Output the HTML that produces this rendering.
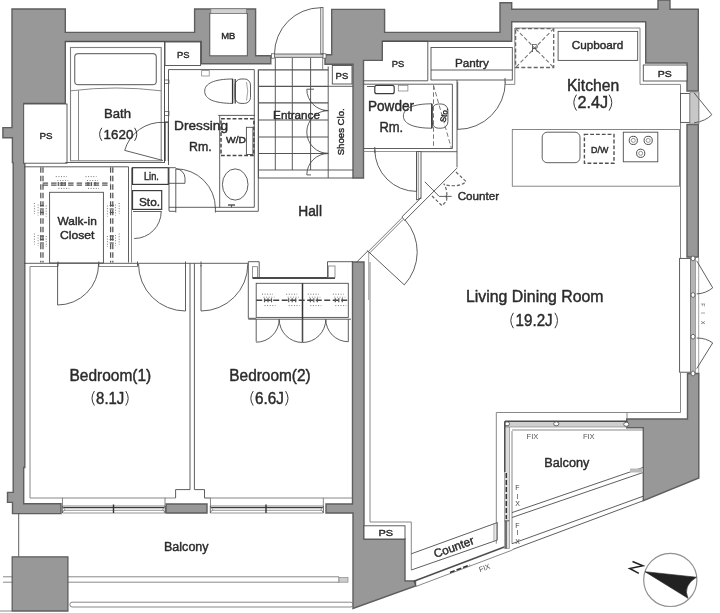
<!DOCTYPE html>
<html><head><meta charset="utf-8"><title>Floor plan</title>
<style>
html,body{margin:0;padding:0;background:#fff;}
body{width:720px;height:613px;overflow:hidden;}
svg{display:block;filter:blur(0.6px);}
svg text{font-family:"Liberation Sans",sans-serif;stroke-width:0.42px;stroke-linejoin:round;}
</style></head><body>
<svg width="720" height="613" viewBox="0 0 720 613">
<rect x="0" y="0" width="720" height="613" fill="#ffffff"/>
<polygon points="12.0,9.0 65.3,9.0 65.3,32.4 194.6,32.4 194.6,9.0 255.6,9.0 255.6,55.8 270.8,55.8 270.8,63.8 201.3,63.8 201.3,41.5 65.3,41.5 65.3,103.5 24.0,103.5 24.0,163.0 24.8,163.0 24.8,467.5 23.7,467.5 23.7,503.7 61.0,503.7 61.0,513.6 12.5,513.6 12.5,502.4 7.5,502.4 7.5,492.4 13.2,492.4 13.2,162.6 12.4,162.6 12.4,137.8 2.9,137.8 2.9,127.6 12.0,127.6" fill="#989898" stroke="#5e5e5e" stroke-width="1.4"/>
<rect x="209.8" y="13.5" width="37.5" height="42.3" rx="0" fill="#fff" stroke="#4d4d4d" stroke-width="0.9"/>
<rect x="210.8" y="8.8" width="35.5" height="4.7" rx="0" fill="#d0d0d0" stroke="#7a7a7a" stroke-width="0.7"/>
<polygon points="331.7,9.4 384.6,9.4 384.6,32.4 500.0,32.4 500.0,2.7 511.7,2.7 511.7,9.3 658.0,9.3 658.0,0.0 670.0,0.0 670.0,9.3 698.3,9.3 698.3,91.0 687.0,91.0 687.0,63.0 645.7,63.0 645.7,21.7 511.7,21.7 511.7,41.2 382.3,41.2 382.3,60.4 363.5,60.4 363.5,178.0 353.0,178.0 353.0,64.2 325.0,64.2 325.0,54.8 331.7,54.8" fill="#989898" stroke="#5e5e5e" stroke-width="1.4"/>
<polygon points="687.0,124.5 698.3,124.5 698.3,257.0 687.0,257.0" fill="#989898" stroke="#5e5e5e" stroke-width="1.4"/>
<polygon points="687.5,373.5 698.8,373.5 698.8,478.0 643.3,500.7 643.3,427.8 626.7,427.8 626.7,419.0 687.5,419.0" fill="#989898" stroke="#5e5e5e" stroke-width="1.4"/>
<polygon points="352.5,262.0 364.0,262.0 364.0,539.0 405.0,539.0 405.0,580.7 415.5,581.0 415.5,586.0 353.0,608.5 353.0,513.0 326.0,513.0 326.0,504.0 352.5,504.0" fill="#989898" stroke="#5e5e5e" stroke-width="1.4"/>
<polygon points="166.0,504.0 207.0,504.0 207.0,513.0 166.0,513.0" fill="#989898" stroke="#5e5e5e" stroke-width="1.4"/>
<rect x="23.7" y="104.0" width="43.3" height="59.2" rx="0" fill="#fff" stroke="#4d4d4d" stroke-width="0.9"/>
<rect x="165.0" y="42.0" width="35.6" height="23.5" rx="0" fill="#fff" stroke="#4d4d4d" stroke-width="0.9"/>
<rect x="332.3" y="65.5" width="19.7" height="18.5" rx="0" fill="#fff" stroke="#4d4d4d" stroke-width="0.9"/>
<polyline points="382.3,41.2 427.8,41.2 427.8,80.8 363.5,80.8" fill="none" stroke="#4d4d4d" stroke-width="0.9"/>
<rect x="643.3" y="65.0" width="43.7" height="16.0" rx="0" fill="#fff" stroke="#4d4d4d" stroke-width="0.9"/>
<rect x="364.0" y="525.8" width="41.0" height="13.2" rx="0" fill="#fff" stroke="#4d4d4d" stroke-width="0.9"/>
<polyline points="65.3,41.5 164.5,41.5 164.5,162.5 65.3,162.5" fill="none" stroke="#4d4d4d" stroke-width="0.9"/>
<rect x="70.5" y="47.5" width="90.7" height="113.3" rx="0" fill="none" stroke="#808080" stroke-width="1.1"/>
<rect x="74.7" y="53.7" width="81.6" height="31.0" rx="3.5" fill="none" stroke="#747474" stroke-width="1.2"/>
<path d="M70.8,90.8 Q116,85.2 161,90.8" fill="none" stroke="#7a7a7a" stroke-width="0.9"/>
<line x1="78.5" y1="90.3" x2="78.5" y2="160.8" stroke="#7a7a7a" stroke-width="0.9"/>
<line x1="164.5" y1="65.5" x2="164.5" y2="162.5" stroke="#4d4d4d" stroke-width="0.9"/>
<rect x="164.5" y="80.0" width="4.5" height="3.5" rx="0" fill="none" stroke="#4d4d4d" stroke-width="0.7"/>
<rect x="164.5" y="111.5" width="4.5" height="4.0" rx="0" fill="none" stroke="#4d4d4d" stroke-width="0.7"/>
<line x1="164.0" y1="122.2" x2="169.0" y2="122.2" stroke="#3c3c3c" stroke-width="1.3"/>
<line x1="165.0" y1="122.2" x2="165.0" y2="161.0" stroke="#3c3c3c" stroke-width="1.3"/>
<line x1="168.4" y1="122.2" x2="168.4" y2="161.0" stroke="#3c3c3c" stroke-width="1.2"/>
<line x1="163.0" y1="160.5" x2="124.7" y2="150.4" stroke="#4d4d4d" stroke-width="0.9"/>
<path d="M124.7,150.4 A38.5,38.5 0 0 1 164,122.4" fill="none" stroke="#4d4d4d" stroke-width="0.9"/>
<polyline points="168.5,165.0 168.5,69.6 254.3,69.6 254.3,207.3 169.0,207.3" fill="none" stroke="#4d4d4d" stroke-width="0.9"/>
<polyline points="258.3,69.6 258.3,211.3 215.4,211.3" fill="none" stroke="#4d4d4d" stroke-width="0.9"/>
<line x1="175.8" y1="211.3" x2="169.0" y2="211.3" stroke="#4d4d4d" stroke-width="0.9"/>
<path d="M233,79 C214,79 204.7,83.5 204.7,91.2 C204.7,99 214,103.4 233,103.4" fill="none" stroke="#4d4d4d" stroke-width="0.9"/>
<rect x="235.0" y="79.0" width="15.5" height="24.4" rx="6" fill="none" stroke="#4d4d4d" stroke-width="0.9"/>
<path d="M246.5,82 Q249,91 246.5,100.5" fill="none" stroke="#7a7a7a" stroke-width="0.7"/>
<line x1="232.6" y1="79.0" x2="232.6" y2="103.4" stroke="#333" stroke-width="1.4"/>
<line x1="235.2" y1="79.0" x2="235.2" y2="103.4" stroke="#333" stroke-width="1.2"/>
<rect x="201.7" y="70.4" width="7.5" height="5.6" rx="0" fill="none" stroke="#7a7a7a" stroke-width="0.7"/>
<line x1="219.7" y1="115.4" x2="219.7" y2="207.5" stroke="#4d4d4d" stroke-width="0.9"/>
<line x1="218.2" y1="115.4" x2="255.0" y2="115.4" stroke="#4d4d4d" stroke-width="0.9"/>
<ellipse cx="235.2" cy="184.5" rx="12.8" ry="15.6" fill="none" stroke="#4d4d4d" stroke-width="0.9"/>
<line x1="228.0" y1="205.0" x2="235.0" y2="205.0" stroke="#4d4d4d" stroke-width="1.4"/>
<line x1="231.5" y1="205.0" x2="231.5" y2="207.5" stroke="#4d4d4d" stroke-width="0.9"/>
<rect x="221.0" y="118.8" width="32.9" height="36.6" rx="0" fill="none" stroke="#484848" stroke-width="1.5" stroke-dasharray="3.8,2"/>
<rect x="246.4" y="127.3" width="6.5" height="27.2" rx="0" fill="none" stroke="#4d4d4d" stroke-width="0.9"/>
<line x1="175.8" y1="168.8" x2="175.8" y2="208.3" stroke="#4d4d4d" stroke-width="0.9"/>
<path d="M175.8,168.8 A39.6,39.6 0 0 1 215.4,208.3" fill="none" stroke="#4d4d4d" stroke-width="0.9"/>
<path d="M175.8,168.8 A9.4,9.4 0 0 1 185,178.1 L185,183.3 L169,183.3" fill="none" stroke="#4d4d4d" stroke-width="0.9"/>
<line x1="175.8" y1="207.3" x2="175.8" y2="212.5" stroke="#4d4d4d" stroke-width="0.9"/>
<line x1="215.4" y1="207.3" x2="215.4" y2="212.5" stroke="#4d4d4d" stroke-width="0.9"/>
<line x1="169.0" y1="167.7" x2="169.0" y2="211.0" stroke="#4d4d4d" stroke-width="0.9"/>
<rect x="132.5" y="167.7" width="35.8" height="16.7" rx="0" fill="none" stroke="#3c3c3c" stroke-width="1.2"/>
<rect x="132.5" y="190.6" width="29.2" height="18.8" rx="0" fill="none" stroke="#3c3c3c" stroke-width="1.2"/>
<line x1="133.0" y1="211.5" x2="161.7" y2="211.5" stroke="#4d4d4d" stroke-width="0.9"/>
<path d="M161.2,211.5 A27,27 0 0 1 134.2,238.5" fill="none" stroke="#4d4d4d" stroke-width="0.9"/>
<line x1="131.5" y1="167.7" x2="131.5" y2="262.5" stroke="#7a7a7a" stroke-width="0.9"/>
<line x1="169.0" y1="167.7" x2="175.8" y2="167.7" stroke="#4d4d4d" stroke-width="0.9"/>
<rect x="274.4" y="54.0" width="48.9" height="3.3" rx="0" fill="#d6d6d6" stroke="#4d4d4d" stroke-width="0.8"/>
<rect x="271.5" y="53.8" width="3.1" height="4.4" rx="0" fill="#fff" stroke="#4d4d4d" stroke-width="0.7"/>
<rect x="323.0" y="53.8" width="3.0" height="4.4" rx="0" fill="#fff" stroke="#4d4d4d" stroke-width="0.7"/>
<rect x="320.8" y="7.5" width="2.2" height="46.5" rx="0" fill="none" stroke="#4d4d4d" stroke-width="0.8"/>
<path d="M320.8,7.7 A46.3,46.3 0 0 0 274.5,54" fill="none" stroke="#4d4d4d" stroke-width="0.9"/>
<line x1="275.3" y1="58.0" x2="275.3" y2="170.0" stroke="#5a5a5a" stroke-width="1.0"/>
<line x1="292.3" y1="58.0" x2="292.3" y2="170.0" stroke="#5a5a5a" stroke-width="1.0"/>
<line x1="310.6" y1="58.0" x2="310.6" y2="170.0" stroke="#5a5a5a" stroke-width="1.0"/>
<line x1="258.4" y1="69.8" x2="258.4" y2="178.0" stroke="#4d4d4d" stroke-width="0.9"/>
<line x1="328.2" y1="66.5" x2="328.2" y2="178.0" stroke="#4d4d4d" stroke-width="0.9"/>
<line x1="322.7" y1="58.0" x2="322.7" y2="69.8" stroke="#7a7a7a" stroke-width="0.9"/>
<line x1="258.4" y1="69.8" x2="328.2" y2="69.8" stroke="#555" stroke-width="1.15"/>
<line x1="258.4" y1="86.3" x2="328.2" y2="86.3" stroke="#555" stroke-width="1.15"/>
<line x1="258.4" y1="102.9" x2="328.2" y2="102.9" stroke="#555" stroke-width="1.15"/>
<line x1="258.4" y1="120.0" x2="328.2" y2="120.0" stroke="#555" stroke-width="1.15"/>
<line x1="258.4" y1="137.0" x2="328.2" y2="137.0" stroke="#555" stroke-width="1.15"/>
<line x1="258.4" y1="153.5" x2="328.2" y2="153.5" stroke="#555" stroke-width="1.15"/>
<line x1="258.4" y1="170.0" x2="353.0" y2="170.0" stroke="#4d4d4d" stroke-width="0.9"/>
<line x1="258.3" y1="178.0" x2="353.0" y2="178.0" stroke="#4d4d4d" stroke-width="0.9"/>
<line x1="328.2" y1="86.3" x2="353.0" y2="86.3" stroke="#4d4d4d" stroke-width="0.9"/>
<path d="M306.8,89.2 A21.4,21.4 0 0 0 328.2,110.6" fill="none" stroke="#4d4d4d" stroke-width="0.9"/>
<path d="M306.8,132.0 A21.4,21.4 0 0 1 328.2,110.6" fill="none" stroke="#4d4d4d" stroke-width="0.9"/>
<path d="M306.8,132.0 A21.4,21.4 0 0 0 328.2,153.4" fill="none" stroke="#4d4d4d" stroke-width="0.9"/>
<path d="M306.8,174.9 A21.4,21.4 0 0 1 328.2,153.5" fill="none" stroke="#4d4d4d" stroke-width="0.9"/>
<line x1="306.8" y1="89.2" x2="314.0" y2="89.2" stroke="#4d4d4d" stroke-width="0.9"/>
<line x1="306.8" y1="174.9" x2="311.0" y2="174.9" stroke="#4d4d4d" stroke-width="0.9"/>
<line x1="323.0" y1="110.6" x2="328.2" y2="110.6" stroke="#4d4d4d" stroke-width="0.9"/>
<line x1="323.0" y1="153.4" x2="328.2" y2="153.4" stroke="#4d4d4d" stroke-width="0.9"/>
<polyline points="363.5,84.2 452.4,84.2 452.4,148.5" fill="none" stroke="#4d4d4d" stroke-width="0.9"/>
<line x1="363.5" y1="148.5" x2="452.4" y2="148.5" stroke="#4d4d4d" stroke-width="0.9"/>
<line x1="363.5" y1="151.5" x2="416.6" y2="151.5" stroke="#7a7a7a" stroke-width="0.8"/>
<line x1="374.8" y1="147.0" x2="374.8" y2="153.0" stroke="#4d4d4d" stroke-width="0.9"/>
<rect x="374.8" y="85.3" width="19.4" height="8.4" rx="2" fill="none" stroke="#3c3c3c" stroke-width="1.2"/>
<line x1="367.0" y1="86.5" x2="374.8" y2="86.5" stroke="#4d4d4d" stroke-width="0.9"/>
<rect x="398.3" y="85.3" width="9.6" height="5.7" rx="0" fill="none" stroke="#7a7a7a" stroke-width="0.7"/>
<path d="M431.9,103.8 C414,103.8 403.4,108 403.4,116 C403.4,124 414,128.2 431.9,128.2" fill="none" stroke="#4d4d4d" stroke-width="0.9"/>
<rect x="431.9" y="104.0" width="16.0" height="24.2" rx="6.5" fill="none" stroke="#4d4d4d" stroke-width="0.9"/>
<line x1="431.9" y1="103.8" x2="431.9" y2="128.2" stroke="#333" stroke-width="1.6"/>
<line x1="433.5" y1="85.3" x2="433.5" y2="148.0" stroke="#7a7a7a" stroke-width="1.0" stroke-dasharray="4.5,2.5"/>
<line x1="433.5" y1="85.3" x2="451.3" y2="148.0" stroke="#7a7a7a" stroke-width="1.0" stroke-dasharray="4.5,2.5"/>
<line x1="416.6" y1="151.5" x2="416.6" y2="191.4" stroke="#4d4d4d" stroke-width="0.9"/>
<path d="M416.6,191.4 A41.8,41.8 0 0 1 374.8,149.6" fill="none" stroke="#4d4d4d" stroke-width="0.9"/>
<line x1="416.6" y1="151.5" x2="416.6" y2="200.0" stroke="#4d4d4d" stroke-width="0.9"/>
<polyline points="421.0,198.7 421.0,151.7 457.0,151.7" fill="none" stroke="#4d4d4d" stroke-width="0.9"/>
<line x1="418.6" y1="151.7" x2="418.6" y2="200.0" stroke="#7a7a7a" stroke-width="0.7"/>
<line x1="416.6" y1="151.5" x2="421.0" y2="151.5" stroke="#4d4d4d" stroke-width="0.9"/>
<rect x="431.0" y="47.5" width="81.3" height="32.5" rx="0" fill="none" stroke="#4d4d4d" stroke-width="0.9"/>
<line x1="431.0" y1="70.0" x2="512.3" y2="70.0" stroke="#4d4d4d" stroke-width="0.9"/>
<line x1="505.0" y1="78.0" x2="505.0" y2="82.5" stroke="#4d4d4d" stroke-width="0.9"/>
<line x1="457.7" y1="81.8" x2="457.7" y2="129.8" stroke="#4d4d4d" stroke-width="0.9"/>
<path d="M457.7,129.4 A47.6,47.6 0 0 0 505.3,81.8" fill="none" stroke="#4d4d4d" stroke-width="0.9"/>
<line x1="457.0" y1="80.0" x2="457.0" y2="167.4" stroke="#4d4d4d" stroke-width="0.9"/>
<line x1="457.0" y1="168.1" x2="404.6" y2="220.5" stroke="#4d4d4d" stroke-width="0.9"/>
<line x1="421.0" y1="197.8" x2="401.9" y2="216.9" stroke="#4d4d4d" stroke-width="0.9"/>
<line x1="416.6" y1="200.0" x2="421.0" y2="197.8" stroke="#4d4d4d" stroke-width="0.9"/>
<line x1="401.9" y1="216.9" x2="404.6" y2="220.5" stroke="#4d4d4d" stroke-width="0.9"/>
<line x1="403.0" y1="219.6" x2="369.8" y2="252.8" stroke="#7a7a7a" stroke-width="1.0"/>
<line x1="401.6" y1="218.2" x2="368.4" y2="251.4" stroke="#7a7a7a" stroke-width="1.0"/>
<line x1="367.2" y1="250.4" x2="370.6" y2="253.8" stroke="#4d4d4d" stroke-width="0.9"/>
<line x1="368.7" y1="251.9" x2="404.3" y2="284.9" stroke="#4d4d4d" stroke-width="0.9"/>
<path d="M404.3,284.9 A48.5,48.5 0 0 0 405.2,220" fill="none" stroke="#4d4d4d" stroke-width="0.9"/>
<line x1="367.8" y1="251.0" x2="357.0" y2="261.8" stroke="#4d4d4d" stroke-width="0.9"/>
<line x1="368.7" y1="252.0" x2="368.7" y2="300.0" stroke="#7a7a7a" stroke-width="0.7"/>
<polyline points="424.8,181.8 439.2,196.4 451.6,196.4" fill="none" stroke="#4d4d4d" stroke-width="0.9"/>
<line x1="446.3" y1="194.8" x2="446.3" y2="198.0" stroke="#4d4d4d" stroke-width="0.9"/>
<path d="M456,172 L466,181.5 Q460,187.5 446,185" fill="none" stroke="#666" stroke-width="1.2" stroke-dasharray="3.2,2"/>
<path d="M432,196 L442,205.7 L446.5,201 Q448,190 443.7,183.7" fill="none" stroke="#666" stroke-width="1.2" stroke-dasharray="3.2,2"/>
<polyline points="504.5,84.4 514.8,84.4 514.8,28.0 640.0,28.0 640.0,84.4 680.5,84.4 680.5,93.5" fill="none" stroke="#7a7a7a" stroke-width="0.9"/>
<rect x="515.6" y="28.6" width="38.1" height="38.9" rx="0" fill="none" stroke="#666" stroke-width="1.3" stroke-dasharray="4,2.2"/>
<line x1="515.6" y1="28.6" x2="553.7" y2="67.5" stroke="#777" stroke-width="1.1" stroke-dasharray="4,2.2"/>
<line x1="553.7" y1="28.6" x2="515.6" y2="67.5" stroke="#777" stroke-width="1.1" stroke-dasharray="4,2.2"/>
<rect x="558.1" y="31.4" width="79.6" height="29.0" rx="0" fill="none" stroke="#4d4d4d" stroke-width="0.9"/>
<rect x="512.3" y="129.5" width="167.2" height="56.7" rx="0" fill="none" stroke="#7a7a7a" stroke-width="0.9"/>
<rect x="542.2" y="132.2" width="37.8" height="30.5" rx="5" fill="none" stroke="#4d4d4d" stroke-width="0.9"/>
<rect x="584.4" y="134.4" width="29.6" height="28.9" rx="0" fill="none" stroke="#505050" stroke-width="1.4" stroke-dasharray="3.8,2"/>
<rect x="623.3" y="132.2" width="34.5" height="29.6" rx="0" fill="none" stroke="#4d4d4d" stroke-width="0.9"/>
<circle cx="633.3" cy="140.4" r="4.1" fill="none" stroke="#4d4d4d" stroke-width="1"/>
<circle cx="633.3" cy="140.4" r="2" fill="none" stroke="#7a7a7a" stroke-width="0.8"/>
<circle cx="648.2" cy="140.4" r="4.1" fill="none" stroke="#4d4d4d" stroke-width="1"/>
<circle cx="648.2" cy="140.4" r="2" fill="none" stroke="#7a7a7a" stroke-width="0.8"/>
<circle cx="640.7" cy="153.3" r="4.1" fill="none" stroke="#4d4d4d" stroke-width="1"/>
<circle cx="640.7" cy="153.3" r="2" fill="none" stroke="#7a7a7a" stroke-width="0.8"/>
<line x1="680.5" y1="122.4" x2="680.5" y2="258.4" stroke="#7a7a7a" stroke-width="0.9"/>
<rect x="680.5" y="93.5" width="9.5" height="28.9" rx="0" fill="#fff" stroke="#4d4d4d" stroke-width="0.9"/>
<rect x="690.0" y="92.0" width="8.3" height="32.0" rx="0" fill="#c8c8c8" stroke="#7a7a7a" stroke-width="0.6"/>
<path d="M694,92.7 L711.8,114.7 Q706,121 694,122.9" fill="none" stroke="#4d4d4d" stroke-width="0.9"/>
<line x1="699.0" y1="92.0" x2="699.0" y2="124.0" stroke="#7a7a7a" stroke-width="0.7"/>
<rect x="679.6" y="258.4" width="11.0" height="113.8" rx="0" fill="#fff" stroke="#4d4d4d" stroke-width="0.9"/>
<rect x="690.6" y="258.0" width="4.9" height="115.0" rx="0" fill="#b4b4b4" stroke="#7a7a7a" stroke-width="0.6"/>
<line x1="698.7" y1="258.0" x2="698.7" y2="373.0" stroke="#7a7a7a" stroke-width="0.7"/>
<ellipse cx="693" cy="258.4" rx="2" ry="2.4" fill="#fff" stroke="#4d4d4d" stroke-width="0.8"/>
<ellipse cx="693" cy="295.0" rx="2" ry="2.4" fill="#fff" stroke="#4d4d4d" stroke-width="0.8"/>
<ellipse cx="693" cy="336.7" rx="2" ry="2.4" fill="#fff" stroke="#4d4d4d" stroke-width="0.8"/>
<ellipse cx="693" cy="373.5" rx="2" ry="2.4" fill="#fff" stroke="#4d4d4d" stroke-width="0.8"/>
<path d="M696.7,260.8 L712.7,287.8 Q706,293.5 696.7,293.9" fill="none" stroke="#4d4d4d" stroke-width="0.9"/>
<path d="M696.7,368.6 L712.7,342.9 Q706,338 696.7,338" fill="none" stroke="#4d4d4d" stroke-width="0.9"/>
<polyline points="370.0,262.0 370.0,522.0 411.3,522.0 411.3,570.0" fill="none" stroke="#7a7a7a" stroke-width="0.9"/>
<polyline points="680.5,372.2 680.5,412.5 496.3,412.5 496.3,543.7" fill="none" stroke="#7a7a7a" stroke-width="0.9"/>
<line x1="627.0" y1="412.5" x2="627.0" y2="419.0" stroke="#7a7a7a" stroke-width="0.9"/>
<line x1="411.3" y1="553.8" x2="497.5" y2="522.5" stroke="#4d4d4d" stroke-width="0.9"/>
<line x1="411.3" y1="570.0" x2="497.5" y2="540.0" stroke="#4d4d4d" stroke-width="0.9"/>
<line x1="497.5" y1="522.5" x2="497.5" y2="540.0" stroke="#7a7a7a" stroke-width="0.9"/>
<line x1="494.0" y1="523.5" x2="494.0" y2="541.0" stroke="#7a7a7a" stroke-width="0.7"/>
<line x1="413.8" y1="581.3" x2="506.3" y2="546.3" stroke="#4d4d4d" stroke-width="1.5"/>
<line x1="416.3" y1="586.3" x2="512.5" y2="550.0" stroke="#7a7a7a" stroke-width="0.9"/>
<line x1="413.8" y1="581.3" x2="416.3" y2="586.3" stroke="#4d4d4d" stroke-width="0.9"/>
<line x1="450.0" y1="572.5" x2="470.0" y2="565.0" stroke="#333" stroke-width="1.6" stroke-dasharray="5,2"/>
<rect x="505.0" y="421.3" width="122.5" height="5.7" rx="0" fill="#cfcfcf" stroke="#7a7a7a" stroke-width="0.6"/>
<line x1="505.0" y1="421.3" x2="627.5" y2="421.3" stroke="#4d4d4d" stroke-width="1.5"/>
<ellipse cx="507.0" cy="423.8" rx="2.6" ry="2" fill="#fff" stroke="#4d4d4d" stroke-width="0.8"/>
<ellipse cx="556.3" cy="423.8" rx="2.6" ry="2" fill="#fff" stroke="#4d4d4d" stroke-width="0.8"/>
<ellipse cx="626.3" cy="424.3" rx="2.6" ry="2" fill="#fff" stroke="#4d4d4d" stroke-width="0.8"/>
<rect x="504.5" y="427.0" width="4.9" height="121.6" rx="0" fill="#dcdcdc" stroke="#7a7a7a" stroke-width="0.6"/>
<line x1="504.8" y1="421.3" x2="504.8" y2="472.0" stroke="#4d4d4d" stroke-width="1.5"/>
<line x1="506.3" y1="473.0" x2="506.3" y2="519.0" stroke="#333" stroke-width="1.5" stroke-dasharray="5,2"/>
<line x1="506.0" y1="521.0" x2="506.0" y2="548.6" stroke="#4d4d4d" stroke-width="1.5"/>
<line x1="504.5" y1="520.8" x2="509.4" y2="520.8" stroke="#4d4d4d" stroke-width="0.9"/>
<line x1="512.0" y1="431.0" x2="512.0" y2="543.7" stroke="#7a7a7a" stroke-width="0.9"/>
<polyline points="512.0,430.0 643.0,430.0" fill="none" stroke="#7a7a7a" stroke-width="0.9"/>
<line x1="512.0" y1="512.6" x2="643.0" y2="467.5" stroke="#4d4d4d" stroke-width="0.9"/>
<line x1="512.0" y1="517.5" x2="643.0" y2="472.5" stroke="#4d4d4d" stroke-width="0.9"/>
<line x1="512.0" y1="543.7" x2="643.0" y2="496.3" stroke="#4d4d4d" stroke-width="0.9"/>
<line x1="512.5" y1="549.5" x2="643.3" y2="500.7" stroke="#4d4d4d" stroke-width="0.9"/>
<rect x="630.0" y="468.5" width="13.0" height="4.0" rx="0" fill="#bbb" stroke="none" stroke-width="0.9"/>
<polyline points="24.0,166.8 128.5,166.8 128.5,262.5" fill="none" stroke="#4d4d4d" stroke-width="0.9"/>
<line x1="40.8" y1="167.2" x2="40.8" y2="262.5" stroke="#555" stroke-width="1.25" stroke-dasharray="5.5,3"/>
<line x1="43.0" y1="167.2" x2="43.0" y2="262.5" stroke="#555" stroke-width="1.25" stroke-dasharray="5.5,3"/>
<line x1="110.6" y1="167.2" x2="110.6" y2="262.5" stroke="#555" stroke-width="1.25" stroke-dasharray="5.5,3"/>
<line x1="112.8" y1="167.2" x2="112.8" y2="262.5" stroke="#555" stroke-width="1.25" stroke-dasharray="5.5,3"/>
<line x1="42.6" y1="183.0" x2="111.0" y2="183.0" stroke="#555" stroke-width="1.25" stroke-dasharray="5.5,3"/>
<line x1="42.6" y1="185.2" x2="111.0" y2="185.2" stroke="#555" stroke-width="1.25" stroke-dasharray="5.5,3"/>
<rect x="49.6" y="192.3" width="53.8" height="70.7" rx="0" fill="none" stroke="#4d4d4d" stroke-width="0.9"/>
<line x1="55.8" y1="176.6" x2="66.8" y2="176.6" stroke="#666" stroke-width="0.9" stroke-dasharray="1,1.6"/>
<line x1="57.3" y1="180.5" x2="68.3" y2="180.5" stroke="#777" stroke-width="0.9" stroke-dasharray="1,1.6"/>
<line x1="58.3" y1="188.4" x2="69.3" y2="188.4" stroke="#666" stroke-width="0.9" stroke-dasharray="1,1.6"/>
<line x1="58.3" y1="182.1" x2="58.3" y2="186.1" stroke="#555" stroke-width="1.2"/>
<line x1="61.8" y1="182.1" x2="61.8" y2="186.1" stroke="#555" stroke-width="1.2"/>
<line x1="65.3" y1="182.1" x2="65.3" y2="186.1" stroke="#555" stroke-width="1.2"/>
<line x1="85.5" y1="176.6" x2="96.5" y2="176.6" stroke="#666" stroke-width="0.9" stroke-dasharray="1,1.6"/>
<line x1="87.0" y1="180.5" x2="98.0" y2="180.5" stroke="#777" stroke-width="0.9" stroke-dasharray="1,1.6"/>
<line x1="88.0" y1="188.4" x2="99.0" y2="188.4" stroke="#666" stroke-width="0.9" stroke-dasharray="1,1.6"/>
<line x1="88.0" y1="182.1" x2="88.0" y2="186.1" stroke="#555" stroke-width="1.2"/>
<line x1="91.5" y1="182.1" x2="91.5" y2="186.1" stroke="#555" stroke-width="1.2"/>
<line x1="95.0" y1="182.1" x2="95.0" y2="186.1" stroke="#555" stroke-width="1.2"/>
<line x1="34.4" y1="203.0" x2="34.4" y2="214.0" stroke="#666" stroke-width="0.9" stroke-dasharray="1,1.6"/>
<line x1="38.1" y1="204.5" x2="38.1" y2="215.5" stroke="#777" stroke-width="0.9" stroke-dasharray="1,1.6"/>
<line x1="46.2" y1="205.5" x2="46.2" y2="216.5" stroke="#666" stroke-width="0.9" stroke-dasharray="1,1.6"/>
<line x1="39.9" y1="205.5" x2="43.9" y2="205.5" stroke="#555" stroke-width="1.2"/>
<line x1="39.9" y1="209.0" x2="43.9" y2="209.0" stroke="#555" stroke-width="1.2"/>
<line x1="39.9" y1="212.5" x2="43.9" y2="212.5" stroke="#555" stroke-width="1.2"/>
<line x1="34.4" y1="233.5" x2="34.4" y2="244.5" stroke="#666" stroke-width="0.9" stroke-dasharray="1,1.6"/>
<line x1="38.1" y1="235.0" x2="38.1" y2="246.0" stroke="#777" stroke-width="0.9" stroke-dasharray="1,1.6"/>
<line x1="46.2" y1="236.0" x2="46.2" y2="247.0" stroke="#666" stroke-width="0.9" stroke-dasharray="1,1.6"/>
<line x1="39.9" y1="236.0" x2="43.9" y2="236.0" stroke="#555" stroke-width="1.2"/>
<line x1="39.9" y1="239.5" x2="43.9" y2="239.5" stroke="#555" stroke-width="1.2"/>
<line x1="39.9" y1="243.0" x2="43.9" y2="243.0" stroke="#555" stroke-width="1.2"/>
<line x1="119.2" y1="203.0" x2="119.2" y2="214.0" stroke="#666" stroke-width="0.9" stroke-dasharray="1,1.6"/>
<line x1="115.5" y1="204.5" x2="115.5" y2="215.5" stroke="#777" stroke-width="0.9" stroke-dasharray="1,1.6"/>
<line x1="107.4" y1="205.5" x2="107.4" y2="216.5" stroke="#666" stroke-width="0.9" stroke-dasharray="1,1.6"/>
<line x1="109.7" y1="205.5" x2="113.7" y2="205.5" stroke="#555" stroke-width="1.2"/>
<line x1="109.7" y1="209.0" x2="113.7" y2="209.0" stroke="#555" stroke-width="1.2"/>
<line x1="109.7" y1="212.5" x2="113.7" y2="212.5" stroke="#555" stroke-width="1.2"/>
<line x1="119.2" y1="233.5" x2="119.2" y2="244.5" stroke="#666" stroke-width="0.9" stroke-dasharray="1,1.6"/>
<line x1="115.5" y1="235.0" x2="115.5" y2="246.0" stroke="#777" stroke-width="0.9" stroke-dasharray="1,1.6"/>
<line x1="107.4" y1="236.0" x2="107.4" y2="247.0" stroke="#666" stroke-width="0.9" stroke-dasharray="1,1.6"/>
<line x1="109.7" y1="236.0" x2="113.7" y2="236.0" stroke="#555" stroke-width="1.2"/>
<line x1="109.7" y1="239.5" x2="113.7" y2="239.5" stroke="#555" stroke-width="1.2"/>
<line x1="109.7" y1="243.0" x2="113.7" y2="243.0" stroke="#555" stroke-width="1.2"/>
<line x1="24.0" y1="263.3" x2="248.3" y2="263.3" stroke="#4d4d4d" stroke-width="0.9"/>
<polyline points="30.0,498.0 30.0,266.5 58.0,266.5" fill="none" stroke="#7a7a7a" stroke-width="0.9"/>
<line x1="98.8" y1="266.5" x2="137.5" y2="266.5" stroke="#7a7a7a" stroke-width="0.9"/>
<line x1="58.0" y1="261.5" x2="58.0" y2="266.5" stroke="#4d4d4d" stroke-width="0.9"/>
<line x1="98.8" y1="261.5" x2="98.8" y2="266.5" stroke="#4d4d4d" stroke-width="0.9"/>
<line x1="137.5" y1="261.5" x2="137.5" y2="266.5" stroke="#4d4d4d" stroke-width="0.9"/>
<line x1="57.6" y1="263.3" x2="57.6" y2="305.0" stroke="#4d4d4d" stroke-width="0.9"/>
<path d="M57.6,305 A41,41 0 0 0 98.6,264" fill="none" stroke="#4d4d4d" stroke-width="0.9"/>
<line x1="185.5" y1="265.0" x2="185.5" y2="311.0" stroke="#4d4d4d" stroke-width="0.9"/>
<path d="M185.5,311 A47,47 0 0 1 138.5,264" fill="none" stroke="#4d4d4d" stroke-width="0.9"/>
<line x1="190.0" y1="263.3" x2="190.0" y2="489.6" stroke="#4d4d4d" stroke-width="0.9"/>
<line x1="194.4" y1="263.3" x2="194.4" y2="489.6" stroke="#4d4d4d" stroke-width="0.9"/>
<line x1="185.5" y1="261.5" x2="185.5" y2="266.5" stroke="#4d4d4d" stroke-width="0.9"/>
<line x1="201.0" y1="261.5" x2="201.0" y2="266.5" stroke="#4d4d4d" stroke-width="0.9"/>
<line x1="201.0" y1="265.0" x2="201.0" y2="311.0" stroke="#4d4d4d" stroke-width="0.9"/>
<path d="M201,311 A46.8,46.8 0 0 0 247.8,264.2" fill="none" stroke="#4d4d4d" stroke-width="0.9"/>
<polyline points="248.3,261.7 248.3,318.3 256.2,318.3" fill="none" stroke="#4d4d4d" stroke-width="0.9"/>
<polyline points="248.3,261.7 259.2,261.7 259.2,277.5" fill="none" stroke="#4d4d4d" stroke-width="0.9"/>
<rect x="252.5" y="266.7" width="5.0" height="10.8" rx="0" fill="none" stroke="#7a7a7a" stroke-width="0.8"/>
<line x1="252.5" y1="278.0" x2="335.0" y2="278.0" stroke="#4a4a4a" stroke-width="2.2"/>
<polyline points="327.5,277.5 327.5,261.7 353.0,261.7" fill="none" stroke="#4d4d4d" stroke-width="0.9"/>
<rect x="328.3" y="266.0" width="6.7" height="11.5" rx="0" fill="none" stroke="#7a7a7a" stroke-width="0.8"/>
<rect x="256.2" y="283.3" width="92.1" height="34.1" rx="0" fill="none" stroke="#4d4d4d" stroke-width="0.9"/>
<line x1="248.3" y1="319.2" x2="351.0" y2="319.2" stroke="#4d4d4d" stroke-width="0.9"/>
<line x1="302.5" y1="283.3" x2="302.5" y2="341.7" stroke="#333" stroke-width="1.5"/>
<line x1="256.2" y1="300.3" x2="348.3" y2="300.3" stroke="#444" stroke-width="1.5" stroke-dasharray="6,2.5"/>
<line x1="262.0" y1="294.2" x2="273.0" y2="294.2" stroke="#666" stroke-width="0.9" stroke-dasharray="1,1.6"/>
<line x1="263.5" y1="297.2" x2="274.5" y2="297.2" stroke="#777" stroke-width="0.9" stroke-dasharray="1,1.6"/>
<line x1="264.5" y1="305.6" x2="275.5" y2="305.6" stroke="#666" stroke-width="0.9" stroke-dasharray="1,1.6"/>
<line x1="264.5" y1="298.3" x2="264.5" y2="302.3" stroke="#555" stroke-width="1.2"/>
<line x1="268.0" y1="298.3" x2="268.0" y2="302.3" stroke="#555" stroke-width="1.2"/>
<line x1="271.5" y1="298.3" x2="271.5" y2="302.3" stroke="#555" stroke-width="1.2"/>
<line x1="286.2" y1="294.2" x2="297.2" y2="294.2" stroke="#666" stroke-width="0.9" stroke-dasharray="1,1.6"/>
<line x1="287.7" y1="297.2" x2="298.7" y2="297.2" stroke="#777" stroke-width="0.9" stroke-dasharray="1,1.6"/>
<line x1="288.7" y1="305.6" x2="299.7" y2="305.6" stroke="#666" stroke-width="0.9" stroke-dasharray="1,1.6"/>
<line x1="288.7" y1="298.3" x2="288.7" y2="302.3" stroke="#555" stroke-width="1.2"/>
<line x1="292.2" y1="298.3" x2="292.2" y2="302.3" stroke="#555" stroke-width="1.2"/>
<line x1="295.7" y1="298.3" x2="295.7" y2="302.3" stroke="#555" stroke-width="1.2"/>
<line x1="307.8" y1="294.2" x2="318.8" y2="294.2" stroke="#666" stroke-width="0.9" stroke-dasharray="1,1.6"/>
<line x1="309.3" y1="297.2" x2="320.3" y2="297.2" stroke="#777" stroke-width="0.9" stroke-dasharray="1,1.6"/>
<line x1="310.3" y1="305.6" x2="321.3" y2="305.6" stroke="#666" stroke-width="0.9" stroke-dasharray="1,1.6"/>
<line x1="310.3" y1="298.3" x2="310.3" y2="302.3" stroke="#555" stroke-width="1.2"/>
<line x1="313.8" y1="298.3" x2="313.8" y2="302.3" stroke="#555" stroke-width="1.2"/>
<line x1="317.3" y1="298.3" x2="317.3" y2="302.3" stroke="#555" stroke-width="1.2"/>
<line x1="332.8" y1="294.2" x2="343.8" y2="294.2" stroke="#666" stroke-width="0.9" stroke-dasharray="1,1.6"/>
<line x1="334.3" y1="297.2" x2="345.3" y2="297.2" stroke="#777" stroke-width="0.9" stroke-dasharray="1,1.6"/>
<line x1="335.3" y1="305.6" x2="346.3" y2="305.6" stroke="#666" stroke-width="0.9" stroke-dasharray="1,1.6"/>
<line x1="335.3" y1="298.3" x2="335.3" y2="302.3" stroke="#555" stroke-width="1.2"/>
<line x1="338.8" y1="298.3" x2="338.8" y2="302.3" stroke="#555" stroke-width="1.2"/>
<line x1="342.3" y1="298.3" x2="342.3" y2="302.3" stroke="#555" stroke-width="1.2"/>
<line x1="256.2" y1="319.2" x2="256.2" y2="341.7" stroke="#4d4d4d" stroke-width="0.9"/>
<path d="M256.2,342.2 A23.0,23.0 0 0 0 279.2,319.2" fill="none" stroke="#4d4d4d" stroke-width="0.9"/>
<line x1="302.5" y1="319.2" x2="302.5" y2="341.7" stroke="#4d4d4d" stroke-width="0.9"/>
<path d="M302.5,342.5 A23.3,23.3 0 0 1 279.2,319.2" fill="none" stroke="#4d4d4d" stroke-width="0.9"/>
<line x1="302.5" y1="319.2" x2="302.5" y2="341.7" stroke="#4d4d4d" stroke-width="0.9"/>
<path d="M302.5,342.5 A23.3,23.3 0 0 0 325.8,319.2" fill="none" stroke="#4d4d4d" stroke-width="0.9"/>
<line x1="348.3" y1="319.2" x2="348.3" y2="341.7" stroke="#4d4d4d" stroke-width="0.9"/>
<path d="M348.3,341.7 A22.5,22.5 0 0 1 325.8,319.2" fill="none" stroke="#4d4d4d" stroke-width="0.9"/>
<polyline points="30.0,498.0 62.4,498.0" fill="none" stroke="#7a7a7a" stroke-width="0.9"/>
<line x1="165.0" y1="498.0" x2="175.6" y2="498.0" stroke="#7a7a7a" stroke-width="0.9"/>
<polyline points="175.6,498.0 175.6,489.6 190.0,489.6" fill="none" stroke="#4d4d4d" stroke-width="0.9"/>
<polyline points="194.5,489.6 204.5,489.6 204.5,498.0 210.4,498.0" fill="none" stroke="#4d4d4d" stroke-width="0.9"/>
<line x1="323.3" y1="498.0" x2="352.5" y2="498.0" stroke="#7a7a7a" stroke-width="0.9"/>
<rect x="62.4" y="498.0" width="102.6" height="8.0" rx="0" fill="#fff" stroke="#7a7a7a" stroke-width="0.9"/>
<line x1="62.4" y1="507.6" x2="165.0" y2="507.6" stroke="#3a3a3a" stroke-width="1.4"/>
<line x1="62.4" y1="510.3" x2="165.0" y2="510.3" stroke="#7a7a7a" stroke-width="0.8"/>
<line x1="62.4" y1="513.0" x2="165.0" y2="513.0" stroke="#7a7a7a" stroke-width="0.8"/>
<line x1="113.5" y1="504.5" x2="113.5" y2="513.0" stroke="#333" stroke-width="1.4"/>
<line x1="62.4" y1="506.0" x2="62.4" y2="513.0" stroke="#4d4d4d" stroke-width="0.9"/>
<line x1="165.0" y1="506.0" x2="165.0" y2="513.0" stroke="#4d4d4d" stroke-width="0.9"/>
<path d="M62.4,506.5 l2.2,3 l-2.2,3 z" fill="#fff" stroke="#4d4d4d" stroke-width="0.6"/>
<path d="M165.0,506.5 l-2.2,3 l2.2,3 z" fill="#fff" stroke="#4d4d4d" stroke-width="0.6"/>
<rect x="210.4" y="498.0" width="112.9" height="8.0" rx="0" fill="#fff" stroke="#7a7a7a" stroke-width="0.9"/>
<line x1="210.4" y1="507.6" x2="323.3" y2="507.6" stroke="#3a3a3a" stroke-width="1.4"/>
<line x1="210.4" y1="510.3" x2="323.3" y2="510.3" stroke="#7a7a7a" stroke-width="0.8"/>
<line x1="210.4" y1="513.0" x2="323.3" y2="513.0" stroke="#7a7a7a" stroke-width="0.8"/>
<line x1="266.0" y1="504.5" x2="266.0" y2="513.0" stroke="#333" stroke-width="1.4"/>
<line x1="210.4" y1="506.0" x2="210.4" y2="513.0" stroke="#4d4d4d" stroke-width="0.9"/>
<line x1="323.3" y1="506.0" x2="323.3" y2="513.0" stroke="#4d4d4d" stroke-width="0.9"/>
<path d="M210.4,506.5 l2.2,3 l-2.2,3 z" fill="#fff" stroke="#4d4d4d" stroke-width="0.6"/>
<path d="M323.3,506.5 l-2.2,3 l2.2,3 z" fill="#fff" stroke="#4d4d4d" stroke-width="0.6"/>
<line x1="18.7" y1="513.6" x2="18.7" y2="556.8" stroke="#4d4d4d" stroke-width="0.9"/>
<line x1="3.0" y1="576.8" x2="339.0" y2="576.8" stroke="#7a7a7a" stroke-width="0.9"/>
<line x1="3.0" y1="582.2" x2="339.0" y2="582.2" stroke="#7a7a7a" stroke-width="0.9"/>
<line x1="339.0" y1="577.2" x2="339.0" y2="582.4" stroke="#7a7a7a" stroke-width="0.9"/>
<rect x="339.0" y="577.5" width="9.0" height="4.7" rx="0" fill="#ccc" stroke="#7a7a7a" stroke-width="0.6"/>
<rect x="69.9" y="602.2" width="283.1" height="4.8" rx="2.2" fill="none" stroke="#7a7a7a" stroke-width="0.9"/>
<line x1="0.0" y1="611.0" x2="12.0" y2="611.0" stroke="#7a7a7a" stroke-width="0.9"/>
<polygon points="12.2,556.8 67.9,556.8 67.9,611.0 12.2,611.0" fill="#989898" stroke="#5e5e5e" stroke-width="1.3"/>
<circle cx="670.3" cy="579.9" r="26.6" fill="none" stroke="#909090" stroke-width="1.2"/>
<path d="M645,571.7 L696.4,577.2 Q682.5,586 688,598.3 Z" fill="#222" stroke="#222" stroke-width="0.6"/>
<polyline points="632.5,561.5 642.9,565.7 629.7,568.5 638.8,573.3" fill="none" stroke="#222" stroke-width="1.5"/>
<text x="221.3" y="38.5" font-size="9.3" textLength="14.1" lengthAdjust="spacingAndGlyphs" fill="#2b2b2b" stroke="#2b2b2b">MB</text>
<text x="177.0" y="58.0" font-size="9.4" textLength="12.5" lengthAdjust="spacingAndGlyphs" fill="#2b2b2b" stroke="#2b2b2b">PS</text>
<text x="39.5" y="138.8" font-size="9.4" textLength="13.0" lengthAdjust="spacingAndGlyphs" fill="#2b2b2b" stroke="#2b2b2b">PS</text>
<text x="104.0" y="117.8" font-size="13" textLength="27.0" lengthAdjust="spacingAndGlyphs" fill="#2b2b2b" stroke="#2b2b2b">Bath</text>
<text x="103.6" y="139.3" font-size="13.2" textLength="29.8" lengthAdjust="spacingAndGlyphs" fill="#2b2b2b" stroke="#2b2b2b">1620</text>
<path d="M101.8,127.8 Q97.4,134.3 101.8,140.8" fill="none" stroke="#2b2b2b" stroke-width="0.95"/>
<path d="M134.6,127.8 Q139.0,134.3 134.6,140.8" fill="none" stroke="#2b2b2b" stroke-width="0.95"/>
<text x="174.1" y="130.2" font-size="13.6" textLength="53.9" lengthAdjust="spacingAndGlyphs" fill="#2b2b2b" stroke="#2b2b2b">Dressing</text>
<text x="189.1" y="150.8" font-size="13.6" textLength="22.7" lengthAdjust="spacingAndGlyphs" fill="#2b2b2b" stroke="#2b2b2b">Rm.</text>
<text x="226.0" y="143.0" font-size="9" textLength="20.0" lengthAdjust="spacingAndGlyphs" fill="#2b2b2b" stroke="#2b2b2b">W/D</text>
<text x="273.1" y="119.0" font-size="11.7" textLength="46.9" lengthAdjust="spacingAndGlyphs" fill="#2b2b2b" stroke="#2b2b2b">Entrance</text>
<text x="335.6" y="78.6" font-size="9.4" textLength="12.6" lengthAdjust="spacingAndGlyphs" fill="#2b2b2b" stroke="#2b2b2b">PS</text>
<text x="344.5" y="155.3" font-size="9.7" textLength="47" lengthAdjust="spacingAndGlyphs" fill="#2b2b2b" stroke="#2b2b2b" transform="rotate(-90 344.5 155.3)">Shoes Clo.</text>
<text x="391.7" y="66.7" font-size="9.4" textLength="12.5" lengthAdjust="spacingAndGlyphs" fill="#2b2b2b" stroke="#2b2b2b">PS</text>
<text x="455.0" y="67.0" font-size="11.7" textLength="33.8" lengthAdjust="spacingAndGlyphs" fill="#2b2b2b" stroke="#2b2b2b">Pantry</text>
<text x="368.0" y="111.1" font-size="13.9" textLength="46.0" lengthAdjust="spacingAndGlyphs" fill="#2b2b2b" stroke="#2b2b2b">Powder</text>
<text x="379.4" y="131.6" font-size="13.9" textLength="23.8" lengthAdjust="spacingAndGlyphs" fill="#2b2b2b" stroke="#2b2b2b">Rm.</text>
<text x="445.6" y="122.5" font-size="8" fill="#2b2b2b" stroke="#2b2b2b" transform="rotate(-80 445.6 122.5)">Sto.</text>
<text x="571.7" y="49.0" font-size="11.75" textLength="51.6" lengthAdjust="spacingAndGlyphs" fill="#2b2b2b" stroke="#2b2b2b">Cupboard</text>
<text x="534.9" y="52.0" font-size="10" text-anchor="middle" fill="#555" font-weight="normal">R</text>
<text x="657.7" y="76.7" font-size="9.4" textLength="14.0" lengthAdjust="spacingAndGlyphs" fill="#2b2b2b" stroke="#2b2b2b">PS</text>
<text x="566.9" y="90.6" font-size="15.8" textLength="52.3" lengthAdjust="spacingAndGlyphs" fill="#2b2b2b" stroke="#2b2b2b">Kitchen</text>
<text x="577.4" y="108.0" font-size="16.2" textLength="30.6" lengthAdjust="spacingAndGlyphs" fill="#2b2b2b" stroke="#2b2b2b">2.4J</text>
<path d="M576.5,94.6 Q571.1,102.6 576.5,110.6" fill="none" stroke="#2b2b2b" stroke-width="0.95"/>
<path d="M609.1,94.6 Q614.5,102.6 609.1,110.6" fill="none" stroke="#2b2b2b" stroke-width="0.95"/>
<text x="591.0" y="153.3" font-size="8.9" textLength="17.3" lengthAdjust="spacingAndGlyphs" fill="#2b2b2b" stroke="#2b2b2b">D/W</text>
<text x="457.7" y="199.6" font-size="11.6" textLength="41.5" lengthAdjust="spacingAndGlyphs" fill="#2b2b2b" stroke="#2b2b2b">Counter</text>
<text x="298.3" y="215.8" font-size="13.8" textLength="23.7" lengthAdjust="spacingAndGlyphs" fill="#2b2b2b" stroke="#2b2b2b">Hall</text>
<text x="144.0" y="180.0" font-size="10" textLength="14.8" lengthAdjust="spacingAndGlyphs" fill="#2b2b2b" stroke="#2b2b2b">Lin.</text>
<text x="139.0" y="205.5" font-size="11.8" textLength="21.0" lengthAdjust="spacingAndGlyphs" fill="#2b2b2b" stroke="#2b2b2b">Sto.</text>
<text x="57.5" y="225.0" font-size="11.8" textLength="39.3" lengthAdjust="spacingAndGlyphs" fill="#2b2b2b" stroke="#2b2b2b">Walk-in</text>
<text x="60.0" y="238.8" font-size="11.8" textLength="34.5" lengthAdjust="spacingAndGlyphs" fill="#2b2b2b" stroke="#2b2b2b">Closet</text>
<text x="69.5" y="380.6" font-size="15.6" textLength="81.7" lengthAdjust="spacingAndGlyphs" fill="#2b2b2b" stroke="#2b2b2b">Bedroom(1)</text>
<text x="96.1" y="403.6" font-size="15.8" textLength="28.2" lengthAdjust="spacingAndGlyphs" fill="#2b2b2b" stroke="#2b2b2b">8.1J</text>
<path d="M94.4,391.1 Q89.6,398.3 94.4,405.5" fill="none" stroke="#2b2b2b" stroke-width="0.95"/>
<path d="M125.8,391.1 Q130.6,398.3 125.8,405.5" fill="none" stroke="#2b2b2b" stroke-width="0.95"/>
<text x="229.3" y="380.6" font-size="15.6" textLength="81.3" lengthAdjust="spacingAndGlyphs" fill="#2b2b2b" stroke="#2b2b2b">Bedroom(2)</text>
<text x="255.0" y="403.6" font-size="15.8" textLength="28.9" lengthAdjust="spacingAndGlyphs" fill="#2b2b2b" stroke="#2b2b2b">6.6J</text>
<path d="M253.2,391.1 Q248.4,398.3 253.2,405.5" fill="none" stroke="#2b2b2b" stroke-width="0.95"/>
<path d="M285.6,391.1 Q290.4,398.3 285.6,405.5" fill="none" stroke="#2b2b2b" stroke-width="0.95"/>
<text x="466.0" y="302.0" font-size="15.8" textLength="137.5" lengthAdjust="spacingAndGlyphs" fill="#2b2b2b" stroke="#2b2b2b">Living Dining Room</text>
<text x="515.6" y="325.8" font-size="16.2" textLength="37.1" lengthAdjust="spacingAndGlyphs" fill="#2b2b2b" stroke="#2b2b2b">19.2J</text>
<path d="M513.4,312.8 Q508.2,320.5 513.4,328.2" fill="none" stroke="#2b2b2b" stroke-width="0.95"/>
<path d="M554.9,312.8 Q560.1,320.5 554.9,328.2" fill="none" stroke="#2b2b2b" stroke-width="0.95"/>
<text x="164.0" y="550.5" font-size="12.5" textLength="44.6" lengthAdjust="spacingAndGlyphs" fill="#2b2b2b" stroke="#2b2b2b">Balcony</text>
<text x="544.3" y="466.7" font-size="12.5" textLength="45.1" lengthAdjust="spacingAndGlyphs" fill="#2b2b2b" stroke="#2b2b2b">Balcony</text>
<text x="378.4" y="536.2" font-size="9.4" textLength="14.6" lengthAdjust="spacingAndGlyphs" fill="#2b2b2b" stroke="#2b2b2b">PS</text>
<text x="453.8" y="551.2" font-size="11.8" text-anchor="middle" fill="#2b2b2b" stroke="#2b2b2b" transform="rotate(-20 453.8 547)">Counter</text>
<text x="532.5" y="439.0" font-size="7.6" text-anchor="middle" fill="#555" font-weight="normal">FIX</text>
<text x="588.8" y="439.0" font-size="7.6" text-anchor="middle" fill="#555" font-weight="normal">FIX</text>
<text x="517.5" y="490.0" font-size="7" text-anchor="middle" fill="#444" font-weight="normal">F</text>
<text x="517.5" y="498.6" font-size="7" text-anchor="middle" fill="#444" font-weight="normal">I</text>
<text x="517.5" y="506.3" font-size="7" text-anchor="middle" fill="#444" font-weight="normal">X</text>
<text x="517.5" y="527.5" font-size="7" text-anchor="middle" fill="#444" font-weight="normal">F</text>
<text x="517.5" y="535.0" font-size="7" text-anchor="middle" fill="#444" font-weight="normal">I</text>
<text x="517.5" y="543.7" font-size="7" text-anchor="middle" fill="#444" font-weight="normal">X</text>
<text x="484.5" y="570.5" font-size="7.4" text-anchor="middle" fill="#555" transform="rotate(-20 484.5 568)">FIX</text>
<text x="702.9" y="307.0" font-size="5.5" text-anchor="middle" fill="#555" transform="rotate(90 702.9 305.0)">F</text>
<text x="702.9" y="315.0" font-size="5.5" text-anchor="middle" fill="#555" transform="rotate(90 702.9 313.0)">I</text>
<text x="702.9" y="324.5" font-size="5.5" text-anchor="middle" fill="#555" transform="rotate(90 702.9 322.5)">X</text>
</svg>
</body></html>
